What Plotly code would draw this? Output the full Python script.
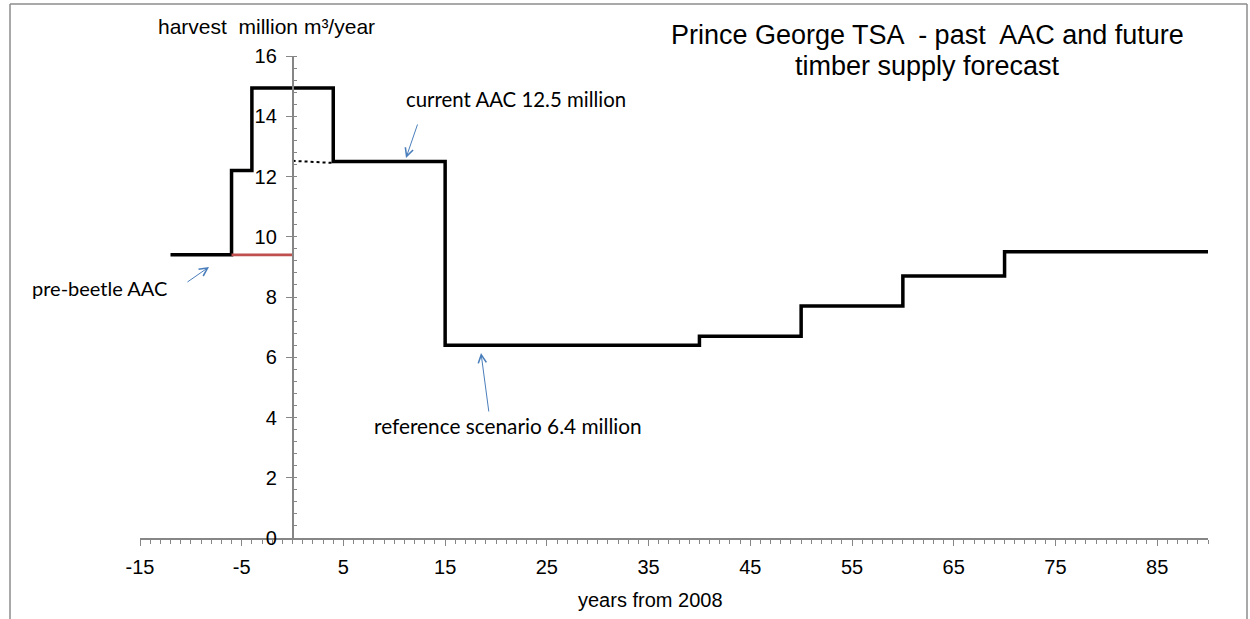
import plotly.graph_objects as go

# Harvest level (million m3/year) by years from 2008 -- each value holds until the next year
step_years = [-12, -6, -4, 4, 15, 40, 50, 60, 70, 90]
step_harvest = [9.4, 12.2, 14.94, 12.5, 6.4, 6.7, 7.7, 8.7, 9.5, 9.5]

# Pre-beetle AAC continued to 2008
prebeetle_years = [-6, 0]
prebeetle_harvest = [9.4, 9.4]

# Current AAC carried back to 2008 (dotted)
current_years = [0, 4]
current_harvest = [12.52, 12.45]

x_ticks = [-15, -5, 5, 15, 25, 35, 45, 55, 65, 75, 85]
y_ticks = [0, 2, 4, 6, 8, 10, 12, 14, 16]

X_RANGE = [-15, 90]
Y_RANGE = [0, 16]

W, H = 1250, 619
ML, MR, MT, MB = 140, 42, 56, 81
PW, PH = W - ML - MR, H - MT - MB


def px_to_paper(px, py):
    return (px - ML) / PW, (H - MB - py) / PH


AXIS_GREY = "#868686"
ARROW_BLUE = "#4a7ebb"
ARIAL = "Liberation Sans, Arial, sans-serif"
CALIBRI = "Lato, Carlito, Calibri, sans-serif"

fig = go.Figure()

fig.add_trace(go.Scatter(
    x=step_years, y=step_harvest, mode="lines", line_shape="hv",
    line=dict(color="black", width=3.5), showlegend=False, hoverinfo="skip",
))
fig.add_trace(go.Scatter(
    x=prebeetle_years, y=prebeetle_harvest, mode="lines",
    line=dict(color="#c0504d", width=2.75), showlegend=False, hoverinfo="skip",
))
fig.add_trace(go.Scatter(
    x=current_years, y=current_harvest, mode="lines",
    line=dict(color="black", width=2, dash="dot"), showlegend=False, hoverinfo="skip",
))

fig.update_xaxes(
    range=X_RANGE, tickmode="array", tickvals=x_ticks,
    ticktext=[str(v) for v in x_ticks],
    showgrid=False, zeroline=False, showline=True, linecolor=AXIS_GREY, linewidth=1.5,
    ticks="outside", ticklen=6, tickwidth=1.2, tickcolor=AXIS_GREY,
    ticklabelstandoff=4,
    minor=dict(dtick=1, tick0=0, ticks="outside", ticklen=4, tickwidth=1, tickcolor=AXIS_GREY),
    tickfont=dict(family=ARIAL, size=20, color="black"),
)
fig.update_yaxes(
    range=Y_RANGE, tickmode="array", tickvals=y_ticks,
    ticktext=[str(v) for v in y_ticks],
    anchor="free", position=(0 - X_RANGE[0]) / (X_RANGE[1] - X_RANGE[0]),
    showgrid=False, zeroline=False, showline=True, linecolor=AXIS_GREY, linewidth=1.5,
    ticks="outside", ticklen=6, tickwidth=1.2, tickcolor=AXIS_GREY,
    ticklabelstandoff=5,
    minor=dict(dtick=0.4, tick0=0, ticks="inside", ticklen=4, tickwidth=1, tickcolor=AXIS_GREY),
    tickfont=dict(family=ARIAL, size=20, color="black"),
)

annotations = []

# Chart title, two centred lines
for line_text, cy in [("Prince George TSA  - past  AAC and future", 35),
                      ("timber supply forecast", 66)]:
    tx, ty = px_to_paper(927, cy)
    annotations.append(dict(
        xref="paper", yref="paper", x=tx, y=ty, xanchor="center", yanchor="middle",
        text=line_text, showarrow=False,
        font=dict(family=ARIAL, size=27, color="black"),
    ))

# Axis titles
ax_, ay_ = px_to_paper(156, 26)
annotations.append(dict(
    xref="paper", yref="paper", x=ax_, y=ay_, xanchor="left", yanchor="middle",
    text="harvest  million m³/year", showarrow=False,
    font=dict(family=ARIAL, size=21, color="black"),
))
bx, by = px_to_paper(650, 600)
annotations.append(dict(
    xref="paper", yref="paper", x=bx, y=by, xanchor="center", yanchor="middle",
    text="years from 2008", showarrow=False,
    font=dict(family=ARIAL, size=20, color="black"),
))

# Callout labels
callouts = [
    ("current AAC 12.5 million", 516, 99, 20.4),
    ("pre-beetle AAC", 99, 288, 20),
    ("reference scenario 6.4 million", 508, 426, 20.8),
]
for text, cx, cy, fs in callouts:
    px_, py_ = px_to_paper(cx, cy)
    annotations.append(dict(
        xref="paper", yref="paper", x=px_, y=py_, xanchor="center", yanchor="middle",
        text=text, showarrow=False, font=dict(family=CALIBRI, size=fs, color="black"),
    ))

# Callout arrows: head position (paper) and tail offset in pixels
arrows = [
    ((406, 158), (12, -35)),
    ((209, 267), (-23, 16)),
    ((481, 353), (8, 60)),
]
for (hx, hy), (dx, dy) in arrows:
    px_, py_ = px_to_paper(hx, hy)
    annotations.append(dict(
        xref="paper", yref="paper", x=px_, y=py_, text="", showarrow=True,
        ax=dx, ay=dy, arrowhead=5, arrowsize=1.6, arrowwidth=1, arrowcolor=ARROW_BLUE,
    ))

# Chart-area frame
lx, _ = px_to_paper(10, 0)
rx, _ = px_to_paper(1247, 0)
_, top = px_to_paper(0, 4)
_, bot = px_to_paper(0, 640)
frame = dict(color="#8c8c8c", width=1.5)
shapes = [
    dict(type="line", xref="paper", yref="paper", x0=lx, x1=rx, y0=top, y1=top, line=frame),
    dict(type="line", xref="paper", yref="paper", x0=lx, x1=lx, y0=bot, y1=top, line=frame),
    dict(type="line", xref="paper", yref="paper", x0=rx, x1=rx, y0=bot, y1=top, line=frame),
]

fig.update_layout(
    width=W, height=H, autosize=False,
    margin=dict(l=ML, r=MR, t=MT, b=MB, pad=0),
    paper_bgcolor="white", plot_bgcolor="white",
    annotations=annotations, shapes=shapes, showlegend=False,
)

fig.write_html("out.html")
